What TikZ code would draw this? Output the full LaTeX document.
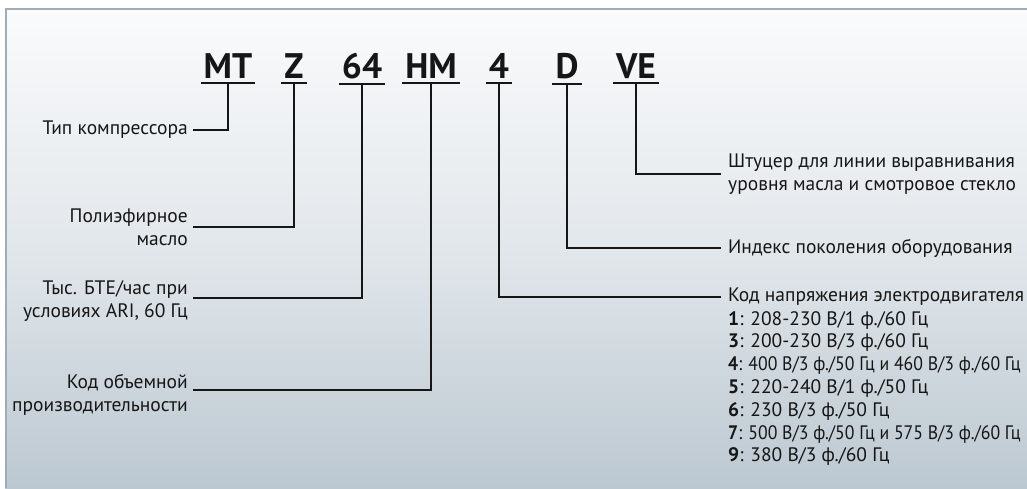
\documentclass[tikz,border=0pt]{standalone}
\usepackage{fontspec}
\setmainfont{PT Sans}
\definecolor{ink}{HTML}{161616}
\definecolor{framec}{HTML}{A0ADB6}
\definecolor{bgtop}{HTML}{FAFBFC}
\definecolor{bgmid}{HTML}{E2E7EB}
\definecolor{bgbot}{HTML}{BCC8D1}
\begin{document}
\begin{tikzpicture}[x=1pt,y=-1pt,
  head/.style={font=\fontsize{35.5}{40}\selectfont\bfseries, text=ink, inner xsep=3pt, inner ysep=5pt, anchor=base},
  lab/.style={font=\fontsize{19.5}{22.8}\selectfont, text=ink, inner sep=0pt, align=right, anchor=east},
  rlab/.style={font=\fontsize{19.5}{22.8}\selectfont, text=ink, inner sep=0pt, align=left, anchor=west},
  conn/.style={draw=ink, line width=2pt},
  uline/.style={draw=ink, line width=2pt}
]
\useasboundingbox (0,0) rectangle (1027,488);
\shade[top color=bgtop, bottom color=bgbot, middle color=bgmid] (5,8) rectangle (1027,488);
\draw[framec, line width=2pt] (5.5,488) -- (5.5,8.5) -- (1027,8.5);

% code letters
\node[head] (hMT) at (228,78) {MT};
\node[head] (hZ)  at (294,78) {Z};
\node[head] (h64) at (362,78) {64};
\node[head] (hHM) at (431,78) {HM};
\node[head] (h4)  at (499,78) {4};
\node[head] (hD)  at (567,78) {D};
\node[head] (hVE) at (636,78) {VE};
\foreach \n in {hMT,hZ,h64,hHM,h4,hD,hVE}
  \draw[uline] (\n.south west) -- (\n.south east);

% left labels
\node[lab] (lTip) at (188,130) {Тип компрессора};
\node[lab] (lOil) at (188,227) {Полиэфирное\\масло};
\node[lab] (lBtu) at (188,301) {Тыс. БТЕ/час при\\условиях ARI, 60 Гц};
\node[lab] (lVol) at (188,395) {Код объемной\\производительности};
\coordinate (cVol) at (193,390);
\coordinate (cBtu) at (193,298);

% right labels
\node[rlab] (rVE) at (728,174) {Штуцер для линии выравнивания\\уровня масла и смотровое стекло};
\node[rlab] (rD) at (728,248) {Индекс поколения оборудования};
\node[rlab] (rV) at (728,297) {Код напряжения электродвигателя};
\node[rlab] (v1) at (728,320) {\textbf{1}: 208-230 В/1 ф./60 Гц};
\node[rlab] (v3) at (728,342.8) {\textbf{3}: 200-230 В/3 ф./60 Гц};
\node[rlab] (v4) at (728,365.6) {\scalebox{0.91}[1]{\textbf{4}: 400 В/3 ф./50 Гц и 460 В/3 ф./60 Гц}};
\node[rlab] (v5) at (728,388.4) {\textbf{5}: 220-240 В/1 ф./50 Гц};
\node[rlab] (v6) at (728,411.2) {\textbf{6}: 230 В/3 ф./50 Гц};
\node[rlab] (v7) at (728,434) {\scalebox{0.91}[1]{\textbf{7}: 500 В/3 ф./50 Гц и 575 В/3 ф./60 Гц}};
\node[rlab] (v9) at (728,456.8) {\textbf{9}: 380 В/3 ф./60 Гц};

% connectors
\draw[conn] (hMT.south) |- ([xshift=5pt]lTip.east);
\draw[conn] (hZ.south) |- ([xshift=5pt]lOil.east);
\draw[conn] (h64.south) |- (cBtu);
\draw[conn] (hHM.south) |- (cVol);
\draw[conn] (h4.south) |- ([xshift=-7pt]rV.west);
\draw[conn] (hD.south) |- ([xshift=-7pt]rD.west);
\draw[conn] (hVE.south) |- ([xshift=-7pt]rVE.west);
\end{tikzpicture}
\end{document}
